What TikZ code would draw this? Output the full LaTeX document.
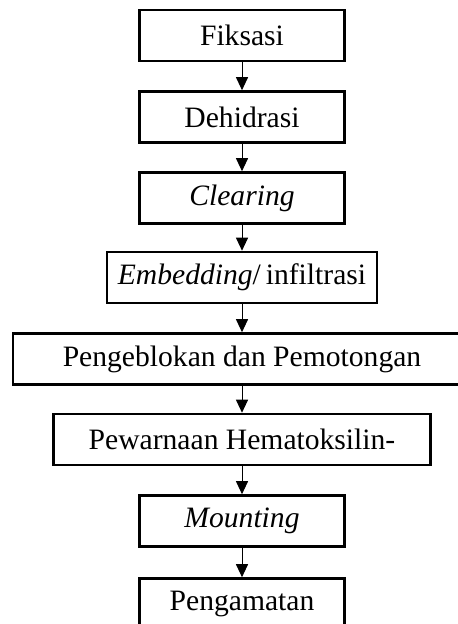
\documentclass[tikz,border=0pt]{standalone}
\usepackage{fontspec}
\setmainfont{Liberation Serif}
\usetikzlibrary{arrows.meta}

\begin{document}
\begin{tikzpicture}[x=0.5pt, y=-0.5pt, font=\fontsize{14.8}{17}\selectfont,
  >={Triangle[width=6pt,length=6.5pt]},
  box/.style={draw, line width=1.3pt, inner sep=0pt, minimum width=102.5pt, minimum height=25.5pt},
  midbox/.style={box, minimum width=135pt},
  widebox/.style={box, minimum width=188.5pt},
  fullbox/.style={box, minimum width=229pt},
  flow/.style={->, line width=0.5pt}]
\useasboundingbox (0,0) rectangle (458,624);
\node[box]     (fiks)  at (242,35.5)  {Fiksasi};
\node[box]     (dehid) at (242,117)   {Dehidrasi};
\node[box]     (clear) at (242,198)   {\textit{Clearing}};
\node[midbox]  (embed) at (242,277.5) {\textit{Embedding}/\,infiltrasi};
\node[fullbox] (blok)  at (242,359)   {Pengeblokan dan Pemotongan};
\node[widebox] (warna) at (242,439.5) {Pewarnaan Hematoksilin-};
\node[box]     (mount) at (242,521)   {\textit{Mounting}};
\node[box]     (amat)  at (242,604)   {Pengamatan};
\draw[flow] (fiks) -- (dehid); \draw[flow] (dehid) -- (clear);
\draw[flow] (clear) -- (embed); \draw[flow] (embed) -- (blok);
\draw[flow] (blok) -- (warna); \draw[flow] (warna) -- (mount);
\draw[flow] (mount) -- (amat);
\end{tikzpicture}
\end{document}
